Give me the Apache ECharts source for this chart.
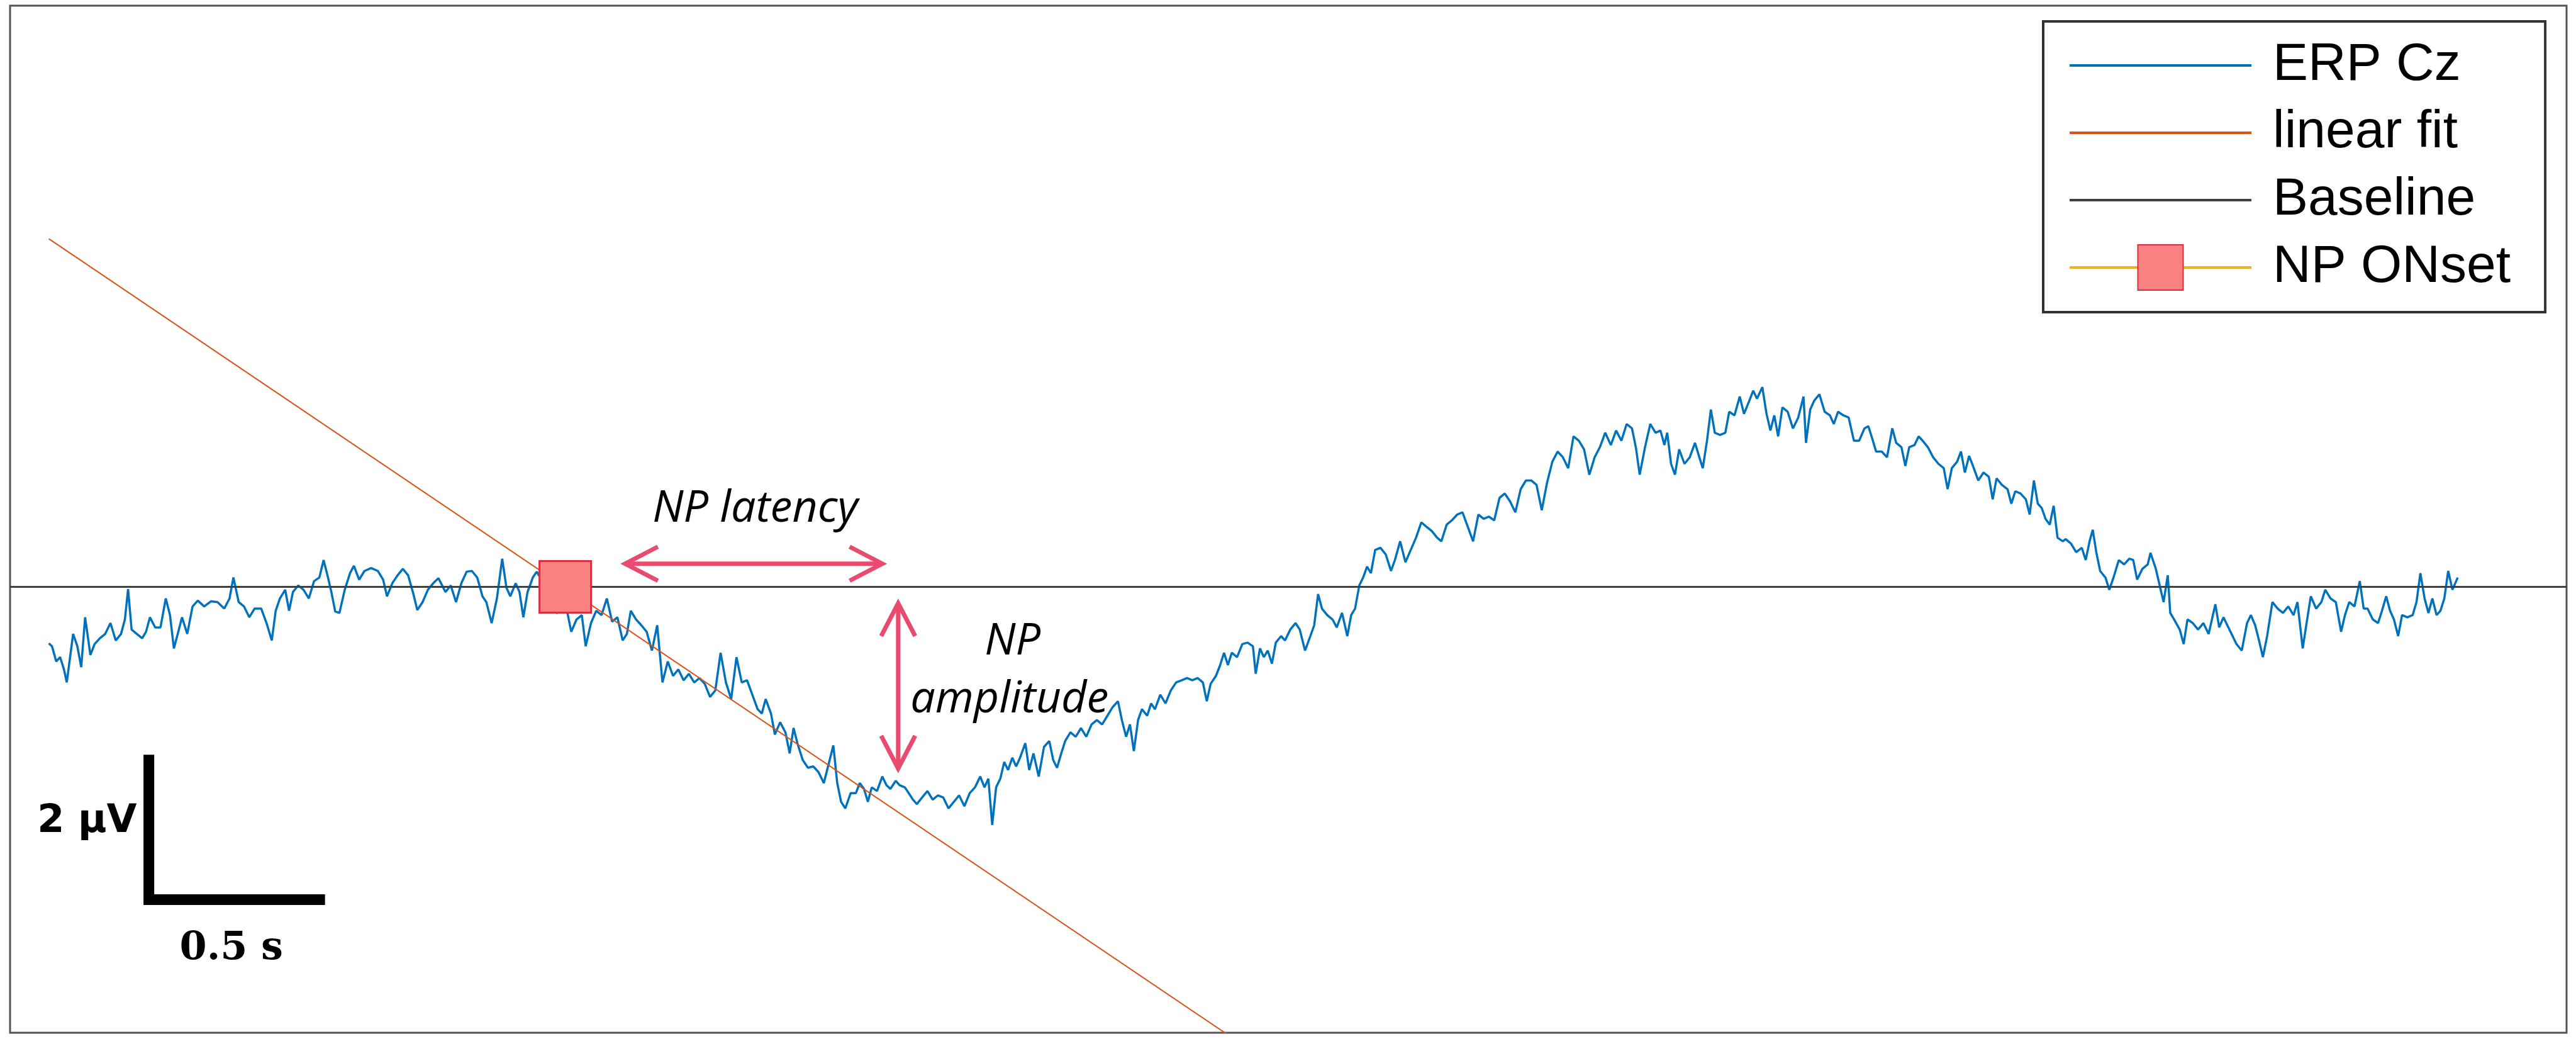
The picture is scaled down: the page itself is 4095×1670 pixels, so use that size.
<!DOCTYPE html>
<html>
<head>
<meta charset="utf-8">
<script src="https://cdn.jsdelivr.net/npm/echarts/dist/echarts.min.js"></script>
<style>
  html, body { margin: 0; padding: 0; background: #fff; }
  #chart { width: 4095px; height: 1670px; }
</style>
</head>
<body>
<div id="chart"></div>
<script>
// ---------------- DATA (time in s, amplitude in µV) ----------------
const legendNames = ['ERP Cz', 'linear fit', 'Baseline', 'NP ONset'];

const erpCz = [
[0.000,-0.78],[0.009,-0.82],[0.021,-1.03],[0.032,-0.97],[0.043,-1.14],[0.051,-1.32],[0.062,-0.91],[0.069,-0.65],[0.081,-0.82],[0.092,-1.11],[0.103,-0.42],[0.118,-0.94],[0.130,-0.79],[0.145,-0.71],[0.160,-0.65],[0.175,-0.50],[0.190,-0.74],[0.205,-0.65],[0.216,-0.45],[0.225,-0.03],[0.235,-0.59],[0.250,-0.65],[0.265,-0.71],[0.276,-0.62],[0.287,-0.42],[0.302,-0.56],[0.317,-0.56],[0.332,-0.16],[0.344,-0.39],[0.355,-0.85],[0.366,-0.65],[0.378,-0.42],[0.393,-0.65],[0.408,-0.27],[0.423,-0.19],[0.441,-0.27],[0.460,-0.20],[0.479,-0.21],[0.498,-0.30],[0.513,-0.16],[0.524,0.13],[0.539,-0.21],[0.554,-0.27],[0.569,-0.42],[0.584,-0.30],[0.603,-0.30],[0.618,-0.50],[0.633,-0.74],[0.644,-0.33],[0.656,-0.16],[0.671,-0.04],[0.682,-0.33],[0.693,-0.07],[0.708,0.02],[0.723,-0.04],[0.738,-0.16],[0.753,0.08],[0.768,0.13],[0.780,0.37],[0.791,0.16],[0.802,-0.07],[0.813,-0.34],[0.825,-0.36],[0.840,-0.04],[0.855,0.19],[0.866,0.29],[0.881,0.10],[0.896,0.22],[0.915,0.26],[0.934,0.22],[0.949,0.10],[0.960,-0.13],[0.975,0.05],[0.990,0.16],[1.005,0.25],[1.020,0.16],[1.035,-0.10],[1.046,-0.32],[1.061,-0.21],[1.076,-0.04],[1.091,0.05],[1.106,0.12],
[1.126,-0.07],[1.141,0.02],[1.156,-0.21],[1.171,0.05],[1.186,0.21],[1.201,0.22],[1.216,0.13],[1.231,-0.13],[1.242,-0.21],[1.257,-0.50],[1.272,-0.16],[1.287,0.39],[1.299,-0.01],[1.310,-0.13],[1.325,0.05],[1.336,-0.07],[1.347,-0.42],[1.359,-0.07],[1.374,0.13],[1.385,0.21],[1.411,-0.01],[1.441,-0.36],[1.471,-0.33],[1.483,-0.62],[1.498,-0.45],[1.513,-0.39],[1.524,-0.82],[1.539,-0.50],[1.554,-0.33],[1.569,-0.39],[1.584,-0.16],[1.599,-0.48],[1.614,-0.42],[1.629,-0.74],[1.641,-0.65],[1.652,-0.33],[1.667,-0.45],[1.682,-0.53],[1.697,-0.62],[1.712,-0.88],[1.727,-0.53],[1.742,-1.32],[1.757,-1.03],[1.772,-1.23],[1.787,-1.14],[1.802,-1.29],[1.817,-1.20],[1.832,-1.32],[1.847,-1.26],[1.862,-1.34],[1.877,-1.52],[1.892,-1.43],[1.907,-0.91],[1.922,-1.32],[1.937,-1.55],[1.952,-0.97],[1.967,-1.32],[1.982,-1.29],[1.997,-1.49],[2.012,-1.69],[2.024,-1.75],[2.035,-1.55],[2.050,-1.75],[2.061,-2.04],[2.076,-1.87],[2.091,-2.01],[2.103,-2.30],[2.114,-1.95],[2.125,-2.16],[2.140,-2.39],[2.155,-2.50],[2.170,-2.48],[2.185,-2.56],[2.200,-2.71],[2.212,-2.48],[2.227,-2.19],[2.238,-2.71],[2.249,-2.97],[2.261,-3.06],[2.276,-2.85],
[2.291,-2.85],[2.302,-2.71],[2.314,-2.79],[2.325,-2.97],[2.336,-2.77],[2.351,-2.82],[2.366,-2.62],[2.378,-2.74],[2.389,-2.79],[2.404,-2.68],[2.415,-2.74],[2.430,-2.77],[2.441,-2.85],[2.453,-2.94],[2.464,-3.00],[2.479,-2.91],[2.494,-2.82],[2.509,-2.94],[2.524,-2.88],[2.539,-2.91],[2.554,-3.06],[2.569,-2.97],[2.584,-2.88],[2.599,-3.03],[2.614,-2.85],[2.629,-2.77],[2.644,-2.62],[2.656,-2.77],[2.667,-2.65],[2.678,-3.29],[2.689,-2.77],[2.701,-2.65],[2.712,-2.42],[2.723,-2.53],[2.735,-2.36],[2.746,-2.48],[2.757,-2.36],[2.772,-2.16],[2.783,-2.53],[2.795,-2.30],[2.810,-2.62],[2.825,-2.21],[2.840,-2.13],[2.851,-2.39],[2.862,-2.50],[2.874,-2.30],[2.885,-2.13],[2.900,-2.01],[2.915,-2.07],[2.930,-1.95],[2.945,-2.07],[2.960,-1.90],[2.975,-1.84],[2.990,-1.90],[3.005,-1.78],[3.020,-1.66],[3.035,-1.58],[3.046,-1.84],[3.058,-2.07],[3.069,-1.90],[3.080,-2.27],[3.092,-1.84],[3.103,-1.69],[3.118,-1.78],[3.129,-1.61],[3.140,-1.69],[3.155,-1.49],[3.170,-1.61],[3.185,-1.43],[3.200,-1.32],[3.216,-1.29],[3.231,-1.26],[3.246,-1.29],[3.261,-1.26],[3.276,-1.32],[3.287,-1.58],[3.298,-1.34],[3.313,-1.23],[3.325,-1.08],[3.336,-0.91],[3.347,-1.08],[3.358,-0.91],[3.373,-0.97],[3.388,-0.79],[3.403,-0.77],[3.418,-0.82],
[3.426,-1.20],[3.438,-0.85],[3.449,-0.97],[3.460,-0.88],[3.472,-1.06],[3.483,-0.77],[3.498,-0.68],[3.509,-0.74],[3.524,-0.59],[3.539,-0.50],[3.551,-0.59],[3.566,-0.88],[3.581,-0.68],[3.592,-0.53],[3.603,-0.10],[3.614,-0.30],[3.629,-0.39],[3.644,-0.45],[3.656,-0.56],[3.671,-0.36],[3.686,-0.68],[3.697,-0.39],[3.708,-0.30],[3.720,0.02],[3.731,0.13],[3.742,0.28],[3.753,0.19],[3.765,0.51],[3.780,0.54],[3.795,0.45],[3.810,0.22],[3.821,0.37],[3.836,0.63],[3.851,0.34],[3.866,0.51],[3.881,0.68],[3.896,0.89],[3.911,0.83],[3.926,0.77],[3.941,0.68],[3.953,0.63],[3.968,0.86],[3.983,0.92],[3.998,1.00],[4.013,1.03],[4.028,0.83],[4.043,0.63],[4.058,1.00],[4.073,0.94],[4.088,0.97],[4.103,0.92],[4.118,1.23],[4.133,1.29],[4.148,1.18],[4.163,1.03],[4.178,1.35],[4.193,1.47],[4.208,1.47],[4.223,1.41],[4.238,1.06],[4.253,1.44],[4.268,1.73],[4.283,1.87],[4.298,1.79],[4.313,1.64],[4.328,2.08],[4.343,2.02],[4.358,1.90],[4.373,1.55],[4.388,1.79],[4.403,1.93],[4.418,2.13],[4.434,1.96],[4.449,2.16],[4.464,2.02],[4.479,2.25],[4.494,2.19],[4.505,1.93],[4.516,1.55],[4.531,1.93],[4.546,2.25],[4.561,2.13],
[4.575,2.16],[4.586,1.96],[4.594,2.13],[4.605,1.70],[4.616,1.55],[4.628,1.90],[4.643,1.70],[4.658,1.79],[4.673,1.99],[4.684,1.81],[4.695,1.64],[4.707,2.02],[4.718,2.45],[4.729,2.13],[4.744,2.10],[4.759,2.13],[4.770,2.42],[4.785,2.37],[4.800,2.63],[4.812,2.39],[4.827,2.57],[4.838,2.71],[4.849,2.60],[4.864,2.76],[4.876,2.39],[4.887,2.16],[4.898,2.37],[4.909,2.08],[4.921,2.48],[4.936,2.42],[4.951,2.19],[4.966,2.34],[4.981,2.63],[4.988,1.99],[5.000,2.45],[5.011,2.57],[5.026,2.66],[5.041,2.42],[5.056,2.37],[5.067,2.25],[5.079,2.42],[5.094,2.37],[5.109,2.34],[5.124,2.02],[5.139,2.02],[5.154,2.19],[5.165,2.22],[5.176,2.05],[5.187,1.87],[5.203,1.87],[5.218,1.79],[5.233,2.19],[5.244,1.99],[5.259,1.93],[5.270,1.67],[5.281,1.93],[5.296,1.96],[5.308,2.08],[5.319,2.02],[5.334,1.93],[5.349,1.79],[5.364,1.70],[5.379,1.64],[5.390,1.35],[5.402,1.64],[5.417,1.73],[5.428,1.87],[5.439,1.58],[5.451,1.81],[5.462,1.67],[5.477,1.47],[5.492,1.58],[5.507,1.52],[5.518,1.21],[5.529,1.50],[5.544,1.41],[5.560,1.35],[5.571,1.15],[5.582,1.32],[5.597,1.29],[5.612,1.21],[5.623,1.00],[5.635,1.47],[5.646,1.15],[5.657,1.09],[5.668,0.94],[5.680,0.86],[5.691,1.12],[5.702,0.68],[5.717,0.63],
[5.725,0.66],[5.740,0.60],[5.755,0.48],[5.771,0.54],[5.782,0.37],[5.793,0.63],[5.802,0.79],[5.812,0.48],[5.823,0.22],[5.838,0.13],[5.849,-0.04],[5.861,0.13],[5.876,0.37],[5.891,0.31],[5.906,0.39],[5.917,0.37],[5.928,0.10],[5.943,0.25],[5.958,0.31],[5.966,0.47],[5.981,0.25],[5.992,0.02],[6.003,-0.21],[6.015,0.16],[6.022,-0.36],[6.033,-0.45],[6.049,-0.59],[6.060,-0.79],[6.071,-0.45],[6.086,-0.50],[6.101,-0.59],[6.116,-0.50],[6.131,-0.65],[6.150,-0.24],[6.161,-0.56],[6.173,-0.42],[6.184,-0.53],[6.199,-0.68],[6.210,-0.79],[6.225,-0.88],[6.240,-0.50],[6.251,-0.39],[6.263,-0.53],[6.274,-0.74],[6.285,-0.97],[6.297,-0.68],[6.312,-0.21],[6.327,-0.30],[6.342,-0.36],[6.357,-0.27],[6.372,-0.39],[6.383,-0.21],[6.398,-0.85],[6.409,-0.50],[6.421,-0.13],[6.436,-0.30],[6.451,-0.21],[6.462,-0.04],[6.477,-0.16],[6.492,-0.21],[6.507,-0.62],[6.518,-0.39],[6.530,-0.21],[6.545,-0.27],[6.560,0.08],[6.571,-0.30],[6.582,-0.30],[6.597,-0.45],[6.612,-0.50],[6.623,-0.33],[6.635,-0.13],[6.646,-0.33],[6.657,-0.45],[6.669,-0.68],[6.680,-0.39],[6.695,-0.42],[6.710,-0.39],[6.721,-0.21],[6.732,0.19],[6.744,-0.16],[6.755,-0.36],[6.766,-0.16],[6.778,-0.39],[6.789,-0.33],[6.800,-0.16],[6.811,0.22],[6.823,-0.04],[6.838,0.13]
];

const linearFit = [[0, 4.81], [3.6, -7.02]];
const baseline = [[-0.11, 0], [7.147, 0]];
const npOnset = [[1.466, 0]];

// annotations (data coordinates)
const latencyArrow = [[1.636, 0.32], [2.366, 0.32]];
const amplitudeArrow = [[2.411, -0.226], [2.411, -2.51]];
const annotationTexts = [
  { text: 'NP latency', pos: [2.005, 1.07] },
  { text: 'NP', pos: [2.736, -0.757] },
  { text: 'amplitude', pos: [2.727, -1.565] }
];
const scaleBarOrigin = [0.284, -4.32];
const scaleBarSize = [0.5, 2];           // 0.5 s, 2 µV
const scaleBarLabels = [
  { text: '2 µV', pos: [0.25, -3.25], align: 'right', family: 'DejaVu Sans' },
  { text: '0.5 s', pos: [0.518, -5.0], align: 'center', family: 'DejaVu Serif' }
];

// ---------------- CHART ----------------
const chart = echarts.init(document.getElementById('chart'), null, { renderer: 'canvas' });

const ARROW_COLOR = '#E94B6F';

function chevron(tip, dx, dy, len, spread) {
  const px = -dy, py = dx;
  return [
    [tip[0] - dx * len + px * spread, tip[1] - dy * len + py * spread],
    [tip[0], tip[1]],
    [tip[0] - dx * len - px * spread, tip[1] - dy * len - py * spread]
  ];
}

function renderAnnotations(params, api) {
  const children = [];
  const arrowStyle = { stroke: ARROW_COLOR, lineWidth: 7, fill: null, lineJoin: 'miter', lineCap: 'butt' };
  [latencyArrow, amplitudeArrow].forEach(function (ar) {
    const a = api.coord(ar[0]);
    const b = api.coord(ar[1]);
    const L = Math.hypot(b[0] - a[0], b[1] - a[1]);
    const ux = (b[0] - a[0]) / L, uy = (b[1] - a[1]) / L;
    children.push({ type: 'polyline', shape: { points: [[a[0] + ux * 3, a[1] + uy * 3], [b[0] - ux * 3, b[1] - uy * 3]] }, style: arrowStyle });
    children.push({ type: 'polyline', shape: { points: chevron(b, ux, uy, 52, 27) }, style: arrowStyle });
    children.push({ type: 'polyline', shape: { points: chevron(a, -ux, -uy, 52, 27) }, style: arrowStyle });
  });
  annotationTexts.forEach(function (t) {
    const p = api.coord(t.pos);
    children.push({
      type: 'text', x: p[0], y: p[1],
      style: { text: t.text, fontFamily: '"Open Sans", "DejaVu Sans", sans-serif', fontStyle: 'italic',
               fontSize: 70, fill: '#000', align: 'center', verticalAlign: 'middle' }
    });
  });
  const o = scaleBarOrigin;
  const top = api.coord([o[0], o[1] + scaleBarSize[1]]);
  const corner = api.coord(o);
  const right = api.coord([o[0] + scaleBarSize[0], o[1]]);
  children.push({ type: 'polyline', shape: { points: [top, corner, right] },
                  style: { stroke: '#000', lineWidth: 17, fill: null, lineJoin: 'miter', lineCap: 'butt' } });
  scaleBarLabels.forEach(function (t) {
    const p = api.coord(t.pos);
    children.push({
      type: 'text', x: p[0], y: p[1],
      style: { text: t.text, fontFamily: t.family, fontWeight: 'bold', fontSize: 62, fill: '#000',
               align: t.align, verticalAlign: 'middle' }
    });
  });
  return { type: 'group', children: children };
}

const option = {
  animation: false,
  backgroundColor: '#fff',
  grid: {
    left: 16, top: 9, right: 15, bottom: 29,
    show: true, borderColor: '#555', borderWidth: 3, backgroundColor: '#fff',
    containLabel: false
  },
  xAxis: {
    type: 'value', min: -0.11, max: 7.147,
    axisLine: { show: false }, axisTick: { show: false }, axisLabel: { show: false }, splitLine: { show: false }
  },
  yAxis: {
    type: 'value', min: -6.16, max: 8.03,
    axisLine: { show: false }, axisTick: { show: false }, axisLabel: { show: false }, splitLine: { show: false }
  },
  legend: {
    orient: 'vertical', left: 3248, top: 34,
    data: legendNames.map(function (n, i) { return i < 3 ? { name: n, itemStyle: { opacity: 0 } } : { name: n }; }),
    itemWidth: 289, itemHeight: 90, itemGap: 23,
    padding: [28, 55, 29, 40],
    borderColor: '#333', borderWidth: 4, backgroundColor: '#fff',
    selectedMode: false,
    lineStyle: { width: 4 },
    textStyle: { fontFamily: '"Liberation Sans", Arial, sans-serif', fontSize: 84, color: '#000', padding: [0, 0, 0, 29] }
  },
  series: [
    {
      name: legendNames[0], type: 'line', data: erpCz, symbol: 'none', z: 2,
      lineStyle: { color: '#0072BD', width: 3.5 }, itemStyle: { color: '#0072BD' }
    },
    {
      name: legendNames[1], type: 'line', data: linearFit, symbol: 'none', z: 3,
      lineStyle: { color: '#D95319', width: 2 }, itemStyle: { color: '#D95319' }
    },
    {
      name: legendNames[2], type: 'line', data: baseline, symbol: 'none', z: 3,
      lineStyle: { color: '#404040', width: 3 }, itemStyle: { color: '#404040' }
    },
    {
      name: legendNames[3], type: 'line', data: npOnset, z: 5,
      symbol: 'rect', symbolSize: 82, showSymbol: true,
      lineStyle: { color: '#EDB120', width: 3 },
      itemStyle: { color: '#F98181', borderColor: '#D8303F', borderWidth: 3 }
    },
    {
      name: 'annotations', type: 'custom', data: [[0, 0]], z: 10, silent: true, clip: false,
      renderItem: renderAnnotations
    }
  ]
};

chart.setOption(option);
</script>
</body>
</html>
